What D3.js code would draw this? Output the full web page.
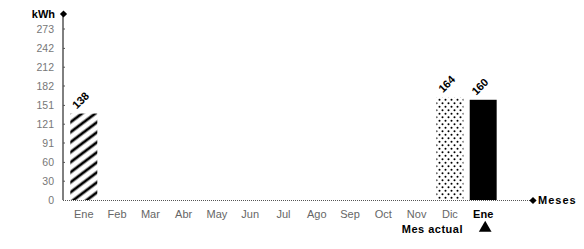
<!DOCTYPE html>
<html>
<head>
<meta charset="utf-8">
<script src="https://cdn.jsdelivr.net/npm/d3@7"></script>
<style>
  body { margin: 0; background: #fff; }
  svg { display: block; font-family: Arial, "Liberation Sans", sans-serif; }
</style>
</head>
<body>
<div id="chart"></div>
<script>
// months shown on the x axis, last one is the current month
const months = ['Ene', 'Feb', 'Mar', 'Abr', 'May', 'Jun', 'Jul', 'Ago', 'Sep', 'Oct', 'Nov', 'Dic', 'Ene']
// consumption per month (null = no bar)
const values = [138, null, null, null, null, null, null, null, null, null, null, 164, 160]
// fill style per bar
const fills = ['hatch', null, null, null, null, null, null, null, null, null, null, 'dots', 'solid']
// y tick labels as printed
const yTicks = [0, 30, 60, 91, 121, 151, 182, 212, 242, 273]

const width = 584
const height = 249
const margin = {left: 63, right: 84, top: 14, bottom: 49}

const svg = d3.select('#chart').append('svg')
  .attr('width', width)
  .attr('height', height)

const defs = svg.append('defs')
const hatch = defs.append('pattern')
  .attr('id', 'hatch')
  .attr('patternUnits', 'userSpaceOnUse')
  .attr('width', 10)
  .attr('height', 8)
  .attr('patternTransform', 'rotate(-37)')
hatch.append('line')
  .attr('x1', -1).attr('x2', 11)
  .attr('y1', 4).attr('y2', 4)
  .attr('stroke', '#000')
  .attr('stroke-width', 2.8)

const dots = defs.append('pattern')
  .attr('id', 'dots')
  .attr('patternUnits', 'userSpaceOnUse')
  .attr('width', 6)
  .attr('height', 7)
dots.append('circle').attr('cx', 1.5).attr('cy', 1.7).attr('r', 1).attr('fill', '#000')
dots.append('circle').attr('cx', 4.5).attr('cy', 5.2).attr('r', 1).attr('fill', '#000')

const x = d3.scaleBand()
  .domain(d3.range(months.length))
  .range([67, 500])
  .paddingInner(0.19)
  .paddingOuter(0.1)

const y = d3.scaleLinear()
  .domain([0, 273])
  .range([200, 29])

const fillFor = f => f === 'hatch' ? 'url(#hatch)' : f === 'dots' ? 'url(#dots)' : '#000'

// bars
const data = values.map((v, i) => ({i, v, f: fills[i]})).filter(d => d.v !== null)

svg.append('g').selectAll('rect')
  .data(data)
  .enter().append('rect')
  .attr('x', d => x(d.i))
  .attr('y', d => y(d.v))
  .attr('width', x.bandwidth())
  .attr('height', d => y(0) - y(d.v))
  .attr('fill', d => fillFor(d.f))

// value labels, rotated
svg.append('g').selectAll('text')
  .data(data)
  .enter().append('text')
  .attr('transform', d => 'translate(' + (x(d.i) + x.bandwidth() / 2 - 7) + ',' + (y(d.v) - 4) + ') rotate(-45)')
  .attr('font-size', 11)
  .attr('font-weight', 'bold')
  .attr('fill', '#000')
  .text(d => d.v)

// y axis
const yAxis = d3.axisLeft(y)
  .tickValues(yTicks)
  .tickSize(0)
  .tickPadding(9)
  .tickFormat(d3.format('d'))

const gy = svg.append('g')
  .attr('transform', 'translate(' + margin.left + ',0)')
  .call(yAxis)
gy.select('.domain').remove()
gy.selectAll('text')
  .attr('font-size', 10.5)
  .attr('font-family', 'Arial, "Liberation Sans", sans-serif')
  .attr('fill', '#777')

svg.append('line')
  .attr('x1', margin.left).attr('x2', margin.left)
  .attr('y1', margin.top).attr('y2', y(0))
  .attr('stroke', '#000')
  .attr('stroke-width', 1)

svg.append('g').selectAll('line')
  .data(yTicks.slice(1))
  .enter().append('line')
  .attr('x1', margin.left).attr('x2', margin.left + 2)
  .attr('y1', d => y(d)).attr('y2', d => y(d))
  .attr('stroke', '#555')

const diamond = d3.symbol(d3.symbolSquare, 26)()

svg.append('path')
  .attr('d', diamond)
  .attr('transform', 'translate(' + (margin.left + 0.5) + ',' + margin.top + ') rotate(45)')
  .attr('fill', '#000')

svg.append('text')
  .attr('x', 55).attr('y', 18)
  .attr('text-anchor', 'end')
  .attr('font-size', 11)
  .attr('font-weight', 'bold')
  .text('kWh')

// x axis
svg.append('line')
  .attr('x1', margin.left).attr('x2', 532)
  .attr('y1', y(0) + 0.5).attr('y2', y(0) + 0.5)
  .attr('stroke', '#555')
  .attr('stroke-width', 1)
  .attr('stroke-dasharray', '1,1')

svg.append('path')
  .attr('d', diamond)
  .attr('transform', 'translate(533,' + (y(0) + 0.5) + ') rotate(45)')
  .attr('fill', '#000')

svg.append('text')
  .attr('x', 538).attr('y', 204)
  .attr('font-size', 11)
  .attr('font-weight', 'bold')
  .attr('letter-spacing', 1)
  .text('Meses')

const xAxis = d3.axisBottom(x)
  .tickSize(0)
  .tickPadding(10)
  .tickFormat(i => months[i])

const gx = svg.append('g')
  .attr('transform', 'translate(0,' + y(0) + ')')
  .call(xAxis)
gx.select('.domain').remove()
gx.selectAll('text')
  .attr('font-size', 11)
  .attr('font-family', 'Arial, "Liberation Sans", sans-serif')
  .attr('fill', (d, i) => i === months.length - 1 ? '#000' : '#666')
  .attr('font-weight', (d, i) => i === months.length - 1 ? 'bold' : 'normal')

// current month marker
const last = months.length - 1
svg.append('text')
  .attr('x', 463).attr('y', 233)
  .attr('text-anchor', 'end')
  .attr('font-size', 11)
  .attr('font-weight', 'bold')
  .attr('letter-spacing', 0.5)
  .text('Mes actual')

svg.append('path')
  .attr('d', d3.symbol(d3.symbolTriangle, 70)())
  .attr('transform', 'translate(' + (x(last) + x.bandwidth() / 2 + 2) + ',228)')
  .attr('fill', '#000')
</script>
</body>
</html>
